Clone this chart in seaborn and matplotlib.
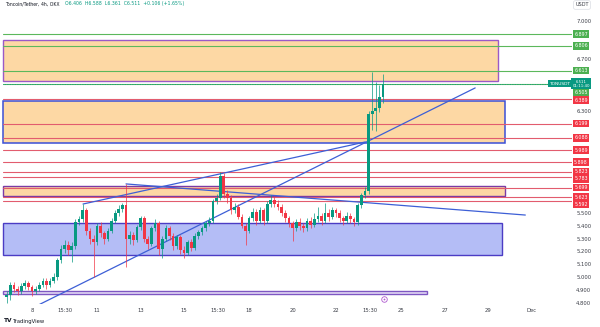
import matplotlib
matplotlib.use("Agg")
import matplotlib.pyplot as plt
from matplotlib.patches import Rectangle
import numpy as np
import pandas as pd
import seaborn as sns

# ---------------------------------------------------------------------------
# TON/USDT 4h candles (x = days since Nov 8 00:00, first candle Nov 6 20:00)
# ---------------------------------------------------------------------------
first_candle_day = -7 / 6
candle_step = 1 / 6
first_open = 4.84

close = [4.86, 4.94, 4.91, 4.89, 4.93, 4.95, 4.92, 4.89, 4.91, 4.94,
         4.97, 4.94, 4.97, 5.00, 5.13, 5.22, 5.25, 5.21, 5.24, 5.43,
         5.45, 5.52, 5.36, 5.30, 5.27, 5.40, 5.34, 5.30, 5.36, 5.44,
         5.50, 5.53, 5.56, 5.30, 5.33, 5.29, 5.39, 5.46, 5.30, 5.26,
         5.38, 5.42, 5.22, 5.30, 5.38, 5.32, 5.24, 5.31, 5.21, 5.19,
         5.27, 5.23, 5.32, 5.35, 5.38, 5.42, 5.44, 5.59, 5.62, 5.79,
         5.65, 5.62, 5.52, 5.55, 5.47, 5.40, 5.36, 5.46, 5.51, 5.44,
         5.52, 5.44, 5.57, 5.60, 5.57, 5.55, 5.50, 5.46, 5.42, 5.38,
         5.43, 5.40, 5.38, 5.44, 5.41, 5.45, 5.48, 5.44, 5.50, 5.47,
         5.52, 5.50, 5.46, 5.44, 5.48, 5.45, 5.43, 5.56, 5.64, 5.67,
         6.27, 6.30, 6.32, 6.406, 6.511]

high = [4.89, 4.96, 4.96, 4.93, 4.95, 4.98, 4.97, 4.94, 4.93, 4.96,
        4.99, 4.99, 4.99, 5.03, 5.15, 5.25, 5.29, 5.28, 5.27, 5.45,
        5.48, 5.57, 5.54, 5.38, 5.33, 5.42, 5.43, 5.36, 5.38, 5.46,
        5.52, 5.56, 5.58, 5.73, 5.36, 5.35, 5.41, 5.48, 5.48, 5.32,
        5.40, 5.45, 5.44, 5.32, 5.41, 5.40, 5.34, 5.33, 5.33, 5.24,
        5.29, 5.30, 5.34, 5.37, 5.40, 5.44, 5.47, 5.61, 5.65, 5.82,
        5.81, 5.68, 5.64, 5.58, 5.57, 5.49, 5.42, 5.48, 5.54, 5.53,
        5.55, 5.54, 5.59, 5.64, 5.63, 5.60, 5.57, 5.52, 5.48, 5.44,
        5.45, 5.46, 5.42, 5.46, 5.47, 5.50, 5.55, 5.50, 5.58, 5.53,
        5.55, 5.54, 5.52, 5.48, 5.51, 5.50, 5.47, 5.58, 5.66, 5.70,
        6.30, 6.60, 6.52, 6.50, 6.588]

low = [4.80, 4.82, 4.88, 4.86, 4.87, 4.91, 4.90, 4.85, 4.87, 4.89,
       4.92, 4.91, 4.92, 4.95, 4.98, 5.11, 5.19, 5.17, 5.12, 5.22,
       5.41, 5.43, 5.33, 5.26, 5.00, 5.25, 5.31, 5.26, 5.28, 5.34,
       5.42, 5.48, 5.51, 5.08, 5.26, 5.25, 5.27, 5.37, 5.27, 5.22,
       5.24, 5.36, 5.17, 5.15, 5.28, 5.29, 5.21, 5.22, 5.18, 5.15,
       5.17, 5.20, 5.21, 5.30, 5.33, 5.36, 5.40, 5.42, 5.57, 5.60,
       5.62, 5.58, 5.49, 5.50, 5.45, 5.38, 5.25, 5.34, 5.44, 5.41,
       5.42, 5.41, 5.42, 5.55, 5.55, 5.52, 5.48, 5.43, 5.39, 5.28,
       5.36, 5.37, 5.35, 5.36, 5.38, 5.39, 5.43, 5.41, 5.42, 5.44,
       5.45, 5.47, 5.43, 5.41, 5.42, 5.42, 5.40, 5.41, 5.54, 5.62,
       5.65, 6.15, 6.14, 6.29, 6.361]

last_price = 6.511

# horizontal support / resistance rays
red_levels = [6.389, 6.199, 6.088, 5.989, 5.898, 5.823, 5.783, 5.699, 5.623, 5.592]
green_levels = [6.897, 6.806, 6.613, 6.505]

# rectangles: (price low, price high)
supply_top = (6.53, 6.85)
supply_mid = (6.05, 6.375)
supply_low = (5.63, 5.71)
demand_zone = (5.17, 5.42)
base_band = (4.87, 4.89)

# trend lines as (day, price) endpoints
trend_long = ([0.28, 20.41], [4.78, 6.477])
trend_upper = ([2.35, 15.35], [5.57, 6.055])
trend_down = ([4.33, 22.72], [5.727, 5.484])

x_tick_pos = [0, 1.52, 3, 5, 7, 8.57, 10, 12, 14, 15.57, 17, 19, 21, 23]
x_tick_labels = ['8', '15:30', '11', '13', '15', '15:30', '18', '20', '22',
                 '15:30', '25', '27', '29', 'Dec']
y_ticks = [round(4.8 + 0.1 * k, 1) for k in range(23)]

# ---------------------------------------------------------------------------
sns.set_theme(style="white")
plt.rcParams['font.family'] = ['DejaVu Sans']

W, H = 600, 327
fig = plt.figure(figsize=(W / 100, H / 100), dpi=100)
fig.patch.set_facecolor('white')
ax = fig.add_axes([0, 1 - 304 / H, 572 / W, 304 / H])
ax.set_facecolor('white')

x_left, x_right = -1.474, 24.87
y_bot, y_top = 4.789, 7.164
ax.set_xlim(x_left, x_right)
ax.set_ylim(y_bot, y_top)
for s in ax.spines.values():
    s.set_visible(False)

start = -1.34

def zone(rng, x_end, face, edge, lw=1.0):
    ax.add_patch(Rectangle((start, rng[0]), x_end - start, rng[1] - rng[0],
                           facecolor=face, edgecolor=edge, linewidth=lw,
                           zorder=1))

zone(supply_top, 21.47, '#fdd8a4', '#9b59c8', 1.0)
zone(supply_mid, 21.8, '#fdd8a4', '#3b4fd6', 1.1)
zone(supply_low, 21.8, '#fdd8a4', '#7a3aa6', 1.0)
zone(demand_zone, 21.66, '#b4bdf6', '#4b3cc4', 1.0)
zone(base_band, 18.2, '#e4dcf5', '#7e57c2', 1.0)

# horizontal levels, running into the price scale
for lv in red_levels:
    ax.plot([start, x_right], [lv, lv], color='#e25c6e', lw=0.8, zorder=2)
for lv in green_levels:
    ax.plot([start, x_right], [lv, lv], color='#5cb85c', lw=0.8, zorder=2)
ax.plot([start, x_right], [last_price, last_price], color='#089981',
        lw=0.6, ls=(0, (1, 1)), zorder=2)

# trend lines
for xs, ys in (trend_long, trend_upper, trend_down):
    sns.lineplot(x=xs, y=ys, ax=ax, color='#3d5fd6', lw=0.9, sort=False,
                 zorder=3)

# candles
opens = [first_open] + close[:-1]
df = pd.DataFrame({'o': opens, 'h': high, 'l': low, 'c': close})
df['x'] = first_candle_day + candle_step * np.arange(len(df))
up_col, dn_col = '#089981', '#f23645'
for _, r in df.iterrows():
    col = up_col if r.c >= r.o else dn_col
    ax.vlines(r.x, r.l, r.h, color=col, lw=0.5, zorder=4)
    body = r.c - r.o
    if abs(body) < 0.006:
        body = 0.006 if body >= 0 else -0.006
    ax.bar(r.x, body, bottom=r.o, width=0.125, color=col, lw=0, zorder=5)

# price-scale labels with simple overlap push-down
px_per_price = 304 / (y_top - y_bot)
labels = [(lv, '#f23645', f'{lv:.3f}', 7.3) for lv in red_levels]
labels += [(lv, '#4caf50', f'{lv:.3f}', 7.3) for lv in green_levels]
labels += [(last_price, '#089981', f'{last_price:.3f}\n01:11:40', 11.0)]
labels.sort(key=lambda t: -t[0])
ytr = ax.get_yaxis_transform()
placed = []
prev_px, prev_h = None, 0
for price, col, txt, hh in labels:
    px = (y_top - price) * px_per_price
    if prev_px is not None:
        px = max(px, prev_px + (prev_h + hh) / 2)
    prev_px, prev_h = px, hh
    placed.append((px, hh))
    yy = y_top - px / px_per_price
    two = '\n' in txt
    ax.text(581 / 572, yy, txt, transform=ytr, ha='center', va='center',
            fontsize=2.8 if two else 3.4, color='white',
            linespacing=1.0, clip_on=False, zorder=20,
            bbox=dict(boxstyle='square,pad=0.3', fc=col, ec='none'))
    if two:
        ax.text(570 / 572, price, 'TONUSDT', transform=ytr, ha='right',
                va='center', fontsize=3.2, color='white', clip_on=False,
                zorder=20,
                bbox=dict(boxstyle='square,pad=0.3', fc=col, ec='none'))

# axes ticks; scale values hidden where a price label sits on top of them
def free(v):
    p = (y_top - v) * px_per_price
    return all(abs(p - c) > hh / 2 + 2.5 for c, hh in placed)

shown = [v for v in y_ticks if free(v)]
ax.set_xticks(x_tick_pos)
ax.set_xticklabels(x_tick_labels)
ax.yaxis.tick_right()
ax.set_yticks(shown)
ax.set_yticklabels([f'{v:.3f}' for v in shown])
ax.tick_params(axis='both', length=0, labelsize=3.8, labelcolor='#3a3d46')
ax.tick_params(axis='x', pad=3)
ax.tick_params(axis='y', pad=3)
ax.grid(False)

# header
fig.text(5 / W, 1 - 4 / H, 'Toncoin/Tether, 4h, OKX', fontsize=3.3,
         color='#131722', va='center', ha='left')
fig.text(65 / W, 1 - 4 / H, 'O6.406  H6.588  L6.361  C6.511  +0.106 (+1.65%)',
         fontsize=3.3, color='#089981', va='center', ha='left')
fig.text(582 / W, 1 - 5 / H, 'USDT', fontsize=3.6, color='#3a3d46',
         ha='center', va='center',
         bbox=dict(boxstyle='round,pad=0.35', fc='white', ec='#d1d4dc', lw=0.4))

# footer logo
fig.text(4 / W, 1 - 321 / H, 'TV', fontsize=4.2, color='#131722',
         fontweight='bold', va='center', ha='left')
fig.text(13 / W, 1 - 321 / H, 'TradingView', fontsize=3.8, color='#131722',
         va='center', ha='left')

# replay marker below the last candle
ax.plot([384 / W], [1 - 299 / H], transform=fig.transFigure, marker='o',
        ms=4, mfc='none', mec='#b05bd0', mew=0.6, clip_on=False, zorder=20)
ax.plot([384 / W], [1 - 299 / H], transform=fig.transFigure, marker='+',
        ms=2, mec='#b05bd0', mew=0.5, clip_on=False, zorder=20)

fig.savefig('out.png', dpi=100)
